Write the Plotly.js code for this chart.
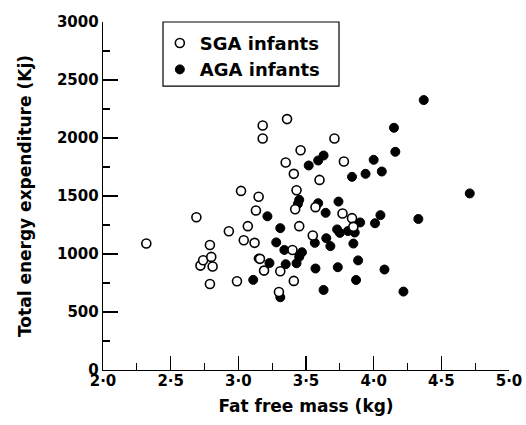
<!DOCTYPE html>
<html>
<head>
<meta charset="utf-8">
<script src="https://cdn.plot.ly/plotly-3.0.1.min.js"></script>
<style>html,body{margin:0;padding:0;background:#fff;}#chart{width:526px;height:425px;}</style>
</head>
<body>
<div id="chart"></div>
<script>
// SGA infants (open circles)
const sgaX = [2.32, 2.69, 2.72, 2.74, 2.79, 2.80, 2.81, 2.79, 2.93, 3.02, 3.04, 3.07, 2.99, 3.15, 3.13, 3.12, 3.16, 3.19, 3.18, 3.18, 3.36, 3.35, 3.41, 3.46, 3.43, 3.42, 3.45, 3.40, 3.31, 3.30, 3.41, 3.55, 3.60, 3.57, 3.71, 3.78, 3.77, 3.84, 3.85];
const sgaY = [1090, 1317, 900, 946, 1078, 975, 892, 742, 1196, 1544, 1119, 1240, 765, 1493, 1375, 1096, 958, 857, 2108, 1996, 2163, 1789, 1691, 1895, 1550, 1386, 1240, 1035, 851, 673, 768, 1159, 1639, 1404, 1996, 1798, 1349, 1309, 1234];
// AGA infants (filled circles)
const agaX = [4.37, 4.15, 4.16, 4.00, 4.06, 3.94, 3.84, 4.71, 3.52, 3.59, 3.63, 3.74, 4.33, 3.45, 3.44, 3.59, 3.645, 3.215, 3.31, 3.73, 3.75, 3.81, 3.86, 3.90, 4.01, 4.05, 3.28, 3.34, 3.47, 3.45, 3.43, 3.65, 3.68, 3.565, 3.85, 3.885, 3.57, 3.735, 4.08, 3.87, 3.23, 3.35, 3.15, 3.11, 3.31, 3.63, 4.22];
const agaY = [2327, 2088, 1881, 1812, 1711, 1691, 1665, 1522, 1763, 1806, 1849, 1452, 1302, 1467, 1432, 1438, 1355, 1325, 1223, 1212, 1182, 1198, 1185, 1272, 1265, 1335, 1100, 1035, 1015, 975, 920, 1136, 1068, 1096, 1090, 945, 875, 886, 866, 776, 922, 912, 961, 777, 627, 690, 676];
// tick labels
const xTickVals = [2.0, 2.5, 3.0, 3.5, 4.0, 4.5, 5.0];
const xTickText = ['2·0', '2·5', '3·0', '3·5', '4·0', '4·5', '5·0'];
const yTickVals = [0, 500, 1000, 1500, 2000, 2500, 3000];
const yTickText = ['0', '500', '1000', '1500', '2000', '2500', '3000'];

const traces = [
  {
    x: agaX, y: agaY, type: 'scatter', mode: 'markers', name: 'AGA infants',
    marker: {symbol: 'circle', size: 9, color: '#000', line: {color: '#000', width: 1}}
  },
  {
    x: sgaX, y: sgaY, type: 'scatter', mode: 'markers', name: 'SGA infants',
    marker: {symbol: 'circle', size: 9, color: '#fff', line: {color: '#000', width: 1.6}}
  }
];

const tickFont = {family: 'DejaVu Sans', size: 15, color: '#000', weight: 'bold'};
const titleFont = {family: 'DejaVu Sans', size: 17, color: '#000', weight: 'bold'};

const layout = {
  width: 526, height: 425,
  margin: {l: 103, r: 17, t: 22, b: 55},
  paper_bgcolor: '#fff', plot_bgcolor: '#fff',
  showlegend: true,
  legend: {
    x: 0.14, y: 0.992, xanchor: 'left', yanchor: 'top',
    traceorder: 'reversed',
    borderwidth: 0, bgcolor: 'rgba(0,0,0,0)',
    font: {family: 'DejaVu Sans', size: 18, color: '#000', weight: 'bold'}
  },
  shapes: [
    {type: 'rect', xref: 'paper', yref: 'paper', x0: 0.1478, x1: 0.5813, y0: 0.816, y1: 1.0,
     line: {color: '#000', width: 1.2}, fillcolor: 'rgba(0,0,0,0)', layer: 'above'}
  ],
  xaxis: {
    range: [2, 5], showgrid: false, zeroline: false,
    showline: true, linecolor: '#000', linewidth: 1.3,
    ticks: 'inside', ticklen: 14, tickwidth: 1.3, tickcolor: '#000',
    tickvals: xTickVals, ticktext: xTickText, tickfont: tickFont,
    ticklabelstandoff: -3,
    minor: {dtick: 0.25, ticks: 'inside', ticklen: 7, tickwidth: 1.3, tickcolor: '#000', showgrid: false},
    title: {text: 'Fat free mass (kg)', font: titleFont, standoff: 10}
  },
  yaxis: {
    range: [0, 3000], showgrid: false, zeroline: false,
    showline: true, linecolor: '#000', linewidth: 1.3,
    ticks: 'inside', ticklen: 15, tickwidth: 1.3, tickcolor: '#000',
    tickvals: yTickVals, ticktext: yTickText, tickfont: tickFont,
    minor: {dtick: 250, ticks: 'inside', ticklen: 7, tickwidth: 1.3, tickcolor: '#000', showgrid: false},
    title: {text: 'Total energy expenditure (Kj)', font: titleFont, standoff: 21}
  }
};

Plotly.newPlot('chart', traces, layout, {staticPlot: true, displayModeBar: false});
</script>
</body>
</html>
